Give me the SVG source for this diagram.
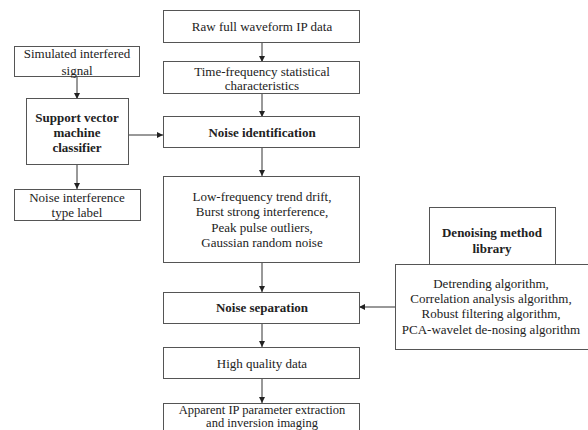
<svg xmlns="http://www.w3.org/2000/svg" width="588" height="430" viewBox="0 0 588 430">
<style>
.box{fill:#fff;stroke:#555;stroke-width:1}
.t{font-family:"Liberation Serif","Times New Roman",serif;font-size:13px;fill:#222;text-anchor:middle;dominant-baseline:central}
.b{font-weight:bold}
.s{font-size:12.5px}
.c{stroke:#333;stroke-width:1;fill:none;marker-end:url(#ah)}
</style>
<defs>
<marker id="ah" markerWidth="6" markerHeight="6" refX="6" refY="3" orient="auto" markerUnits="userSpaceOnUse">
<path d="M0,0 L6,3 L0,6 z" fill="#222"/>
</marker>
</defs>
<rect width="588" height="430" fill="#fff"/>
<g id="connectors">
<line class="c" x1="262" y1="42" x2="262" y2="62"/>
<line class="c" x1="262" y1="93" x2="262" y2="117"/>
<line class="c" x1="262" y1="148" x2="262" y2="176"/>
<line class="c" x1="262" y1="262" x2="262" y2="292"/>
<line class="c" x1="262" y1="323" x2="262" y2="347"/>
<line class="c" x1="262" y1="378" x2="262" y2="403"/>
<line class="c" x1="77" y1="76" x2="77" y2="99"/>
<line class="c" x1="77" y1="164" x2="77" y2="189"/>
<line class="c" x1="128" y1="135" x2="163" y2="135"/>
<line class="c" x1="395" y1="307" x2="359" y2="307"/>
</g>
<g id="raw">
<rect class="box" x="163.5" y="10.5" width="196" height="32"/>
<text class="t" x="262" y="26">Raw full waveform IP data</text>
</g>
<g id="tf">
<rect class="box" x="163.5" y="61.5" width="196" height="32"/>
<text class="t" x="262" y="71">Time-frequency statistical</text>
<text class="t" x="262" y="85">characteristics</text>
</g>
<g id="noiseid">
<rect class="box" x="163.5" y="116.5" width="196" height="31"/>
<text class="t b" x="262" y="132">Noise identification</text>
</g>
<g id="types">
<rect class="box" x="163.5" y="176.5" width="196" height="86"/>
<text class="t" x="262" y="196">Low-frequency trend drift,</text>
<text class="t" x="262" y="211">Burst strong interference,</text>
<text class="t" x="262" y="227">Peak pulse outliers,</text>
<text class="t" x="262" y="242">Gaussian random noise</text>
</g>
<g id="noisesep">
<rect class="box" x="163.5" y="292.5" width="196" height="31"/>
<text class="t b" x="262" y="307">Noise separation</text>
</g>
<g id="hq">
<rect class="box" x="163.5" y="347.5" width="196" height="31"/>
<text class="t" x="262" y="363">High quality data</text>
</g>
<g id="apparent">
<rect class="box" x="163.5" y="403.5" width="196" height="40"/>
<text class="t s" x="262" y="410">Apparent  IP parameter extraction</text>
<text class="t s" x="262" y="423">and inversion imaging</text>
</g>
<g id="sim">
<rect class="box" x="14.5" y="46.5" width="125" height="30"/>
<text class="t" x="77" y="53">Simulated interfered</text>
<text class="t" x="77" y="70">signal</text>
</g>
<g id="svm">
<rect class="box" x="26.5" y="98.5" width="102" height="66"/>
<text class="t b" x="77" y="117">Support vector</text>
<text class="t b" x="77" y="132">machine</text>
<text class="t b" x="77" y="147">classifier</text>
</g>
<g id="label">
<rect class="box" x="14.5" y="189.5" width="126" height="31"/>
<text class="t" x="77" y="197">Noise interference</text>
<text class="t" x="77" y="212">type label</text>
</g>
<g id="library">
<rect class="box" x="429.5" y="207.5" width="126" height="57"/>
<text class="t b" x="492" y="232">Denoising method</text>
<text class="t b" x="492" y="248">library</text>
</g>
<g id="methods">
<rect class="box" x="395.5" y="264.5" width="200" height="85"/>
<text class="t" x="491" y="283">Detrending algorithm,</text>
<text class="t" x="491" y="298">Correlation analysis algorithm,</text>
<text class="t" x="491" y="313">Robust filtering algorithm,</text>
<text class="t" x="491" y="329">PCA-wavelet de-nosing algorithm</text>
</g>
</svg>
